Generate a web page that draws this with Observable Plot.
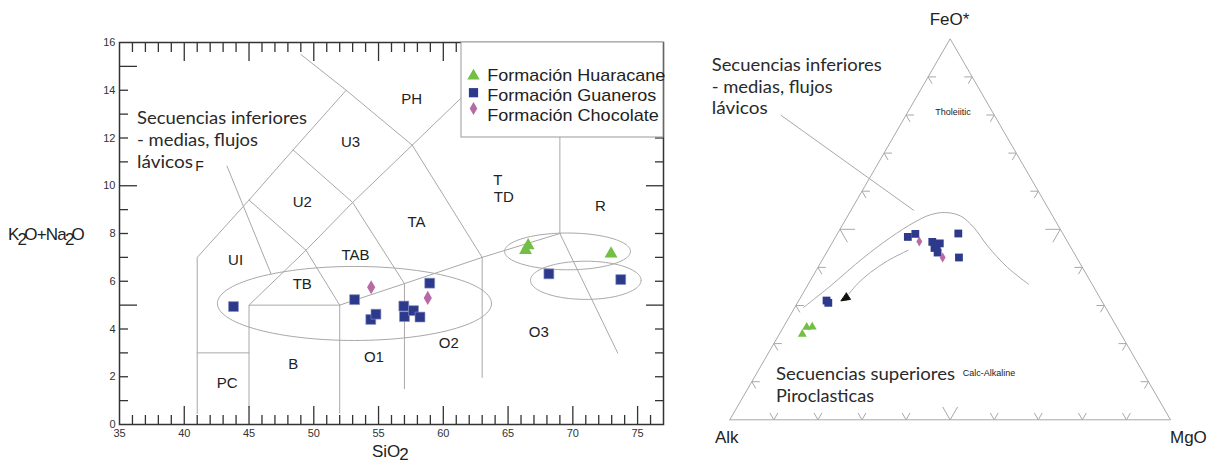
<!DOCTYPE html>
<html><head><meta charset="utf-8">
<script src="https://cdn.jsdelivr.net/npm/d3@7"></script>
<script src="https://cdn.jsdelivr.net/npm/@observablehq/plot@0.6"></script>
<style>
html,body{margin:0;padding:0;background:#fff;}
#wrap{position:relative;width:1210px;height:465px;overflow:hidden;background:#fff;}
</style></head><body><div id="wrap"></div>
<script>
// ================= DATA =================
const formations = ["Formación Huaracane", "Formación Guaneros", "Formación Chocolate"];
const formationColors = ["#72bf44", "#2d3a8c", "#b86aa6"];
const formationSymbols = ["triangle", "square", "diamond"];

// TAS diagram (SiO2 vs K2O+Na2O)
const huaracaneSiO2 = [66.35, 66.55, 72.95];
const huaracaneAlk  = [7.30, 7.50, 7.15];
const guanerosSiO2  = [43.8, 53.15, 54.4, 54.8, 56.95, 57.0, 57.7, 58.2, 58.95, 68.15, 73.7];
const guanerosAlk   = [4.94, 5.23, 4.40, 4.62, 4.96, 4.52, 4.77, 4.50, 5.92, 6.31, 6.07];
const chocolateSiO2 = [54.43, 58.8];
const chocolateAlk  = [5.75, 5.30];

const xTickLabels = [35, 40, 45, 50, 55, 60, 65, 70, 75];
const yTickLabels = [0, 2, 4, 6, 8, 10, 12, 14, 16];

// TAS field boundaries: polylines of [SiO2, alkalis]
const fieldLines = [
  [[41, 0.46], [41, 7], [45, 9.4], [48.4, 11.5], [52.5, 14], [49, 15.5]],
  [[41, 3], [45, 3]],
  [[45, 0.72], [45, 5], [52, 5], [52, 0.47]],
  [[52, 5], [57, 5.9], [63, 7], [69, 8]],
  [[45, 5], [49.4, 7.3], [52, 5]],
  [[49.4, 7.3], [45, 9.4]],
  [[49.4, 7.3], [53, 9.3], [57.6, 11.7]],
  [[48.4, 11.5], [53, 9.3], [57, 5.9], [57, 1.5]],
  [[52.5, 14], [57.6, 11.7], [63, 7], [63, 1.97]],
  [[57.6, 11.7], [62, 14]],
  [[69, 8], [69, 13]],
  [[69, 8], [73.47, 2.99]],
  [[43.3, 10.82], [46.7, 6.31]]
];
const regionNames = ["PH", "U3", "U2", "UI", "TB", "TAB", "TA", "T", "TD", "R", "O1", "O2", "O3", "B", "PC"];
const regionSiO2  = [57.55, 52.84, 49.11, 43.96, 49.11, 53.22, 57.93, 64.21, 64.67, 72.13, 54.64, 60.42, 67.37, 48.41, 43.31];
const regionAlk   = [13.64, 11.82, 9.31, 6.87, 5.89, 7.11, 8.47, 10.25, 9.52, 9.13, 2.82, 3.42, 3.87, 2.54, 1.73];

// grouping ellipses
const ellipseCx = [53.14, 69.59, 71.0];
const ellipseCy = [5.07, 7.25, 6.04];
const ellipseRx = [10.58, 4.86, 4.27];
const ellipseRy = [1.55, 0.77, 0.80];

// AFM ternary (percent Alk, FeO*, MgO)
const huaracaneA = [72.3, 70.4, 69.1];
const huaracaneF = [22.5, 24.3, 24.4];
const huaracaneM = [5.2, 5.3, 6.5];
const guanerosA  = [35.6, 33.5, 30.7, 29.2, 31.0, 30.2, 30.9, 23.7, 26.7, 62.4, 62.3];
const guanerosF  = [48.0, 48.8, 46.7, 46.3, 45.1, 45.7, 43.9, 48.9, 42.6, 31.3, 30.7];
const guanerosM  = [16.4, 17.7, 22.6, 24.5, 23.9, 24.1, 25.2, 27.4, 30.7, 6.3, 7.0];
const chocolateA = [33.6, 30.4];
const chocolateF = [46.8, 42.6];
const chocolateM = [19.6, 27.0];

// tholeiitic / calc-alkaline divide (F, M %)
const divideF = [29.5, 35.2, 42.6, 47.8, 51.8, 53.8, 54.4, 53.5, 50.5, 45.7, 40.0, 35.6];
const divideM = [2.0, 5.3, 9.1, 12.5, 15.9, 18.6, 21.7, 25.6, 30.1, 35.6, 43.0, 50.0];
// trend arrow (F, M %)
const arrowF = [44.5, 41.7, 38.7, 35.6, 33.0];
const arrowM = [18.2, 14.9, 12.6, 11.1, 10.5];
const arrowHeadF = [33.3, 31.2, 31.6, 33.3];
const arrowHeadM = [9.8, 9.6, 11.6, 9.8];
// leader line from annotation (F, M %)
const leaderF = [79.9, 55.0];
const leaderM = [-28.3, 14.2];
const ternTicks = [0.1, 0.2, 0.3, 0.4, 0.5, 0.6, 0.7, 0.8, 0.9];

// ================= DRAW =================
const wrap = document.getElementById("wrap");
const gray = "#a8a8a8";
const axisCol = "#333";

// ---------- TAS ----------
const fieldPts = fieldLines.flatMap((pl, i) => pl.map(([x, y]) => ({id: i, x, y})));
const ellPts = ellipseCx.flatMap((cx, i) => d3.range(0, 121).map(k => {
  const t = k / 120 * 2 * Math.PI;
  return {id: i, x: cx + ellipseRx[i] * Math.cos(t), y: ellipseCy[i] + ellipseRy[i] * Math.sin(t)};
}));
const regions = regionNames.map((t, i) => ({t, x: regionSiO2[i], y: regionAlk[i]}));
const pts = (xs, ys) => xs.map((x, i) => ({x, y: ys[i]}));
const xMinor = d3.range(36, 77).filter(v => v % 5 !== 0);
const xMajor = [40, 45, 50, 55, 60, 65, 70, 75];
const yMinor = d3.range(1, 16).filter(v => v % 5 !== 0);
const yMajor = [5, 10, 15];
const noText = () => "";
const tk = (o) => ({label: null, tickFormat: noText, color: axisCol, strokeWidth: 1.3, ...o});

const tas = Plot.plot({
  width: 700, height: 465,
  marginLeft: 119, marginRight: 37, marginTop: 42, marginBottom: 41,
  x: {domain: [35, 77]},
  y: {domain: [0, 16]},
  style: {fontFamily: "'Liberation Sans', Arial, sans-serif", fontSize: "11px", color: axisCol, background: "transparent", overflow: "visible"},
  marks: [
    Plot.line(fieldPts, {x: "x", y: "y", z: "id", stroke: gray, strokeWidth: 1}),
    Plot.line(ellPts, {x: "x", y: "y", z: "id", stroke: gray, strokeWidth: 1}),
    Plot.text(regions, {x: "x", y: "y", text: "t", fontSize: 15, fill: "#222"}),
    Plot.text(["F"], {x: [41.18], y: [10.82], text: d => d, fontSize: 14, fill: "#222"}),
    Plot.frame({stroke: axisCol, strokeWidth: 1.5}),
    Plot.axisX(xMinor, tk({anchor: "bottom", tickSize: -9})),
    Plot.axisX(xMajor, tk({anchor: "bottom", tickSize: -18})),
    Plot.axisX(xTickLabels, {anchor: "bottom", tickSize: 0, tickPadding: 5, label: null, color: axisCol, fontSize: 11}),
    Plot.axisX(xMinor, tk({anchor: "top", tickSize: -9})),
    Plot.axisX(xMajor, tk({anchor: "top", tickSize: -18})),
    Plot.axisY(yMinor, tk({anchor: "left", tickSize: -9})),
    Plot.axisY(yMajor, tk({anchor: "left", tickSize: -18})),
    Plot.axisY(yTickLabels, {anchor: "left", tickSize: 0, tickPadding: 4, label: null, color: axisCol, fontSize: 11}),
    Plot.axisY(yMinor, tk({anchor: "right", tickSize: -9})),
    Plot.axisY(yMajor, tk({anchor: "right", tickSize: -18})),
    Plot.dot(pts(guanerosSiO2, guanerosAlk), {x: "x", y: "y", symbol: "square", r: 5.6, fill: formationColors[1], stroke: "#8a93c4", strokeWidth: 0.6}),
    Plot.dot(pts(chocolateSiO2, chocolateAlk), {x: "x", y: "y", symbol: "diamond", r: 4.3, fill: formationColors[2]}),
    Plot.dot(pts(huaracaneSiO2, huaracaneAlk), {x: "x", y: "y", symbol: "triangle", r: 4.8, fill: formationColors[0]})
  ]
});
tas.style.position = "absolute"; tas.style.left = "0px"; tas.style.top = "0px";
wrap.appendChild(tas);

// ---------- AFM ternary ----------
const SQ = Math.sqrt(3) / 2;
const toXY = (a, f, m) => { const s = a + f + m; return {x: (m + f / 2) / s, y: f * SQ / s}; };
const fm = (f, m) => toXY(100 - f - m, f, m);
const outline = [toXY(1, 0, 0), toXY(0, 1, 0), toXY(0, 0, 1), toXY(1, 0, 0)];
const tp = (xsA, xsF, xsM) => xsA.map((a, i) => toXY(a, xsF[i], xsM[i]));
const divide = divideF.map((f, i) => fm(f, divideM[i]));
const arrow = arrowF.map((f, i) => fm(f, arrowM[i]));
const head = arrowHeadF.map((f, i) => fm(f, arrowHeadM[i]));
const leader = leaderF.map((f, i) => fm(f, leaderM[i]));
// tick stubs along the ternary grid directions
const stubs = [];
ternTicks.forEach(v => {
  const L = Math.abs(v - 0.5) < 1e-9 ? 0.034 : 0.018;
  const P = (f, m) => ({x: m + f / 2, y: f * SQ});
  const add = (p, q) => stubs.push({x1: p.x, y1: p.y, x2: q.x, y2: q.y});
  add(P(0, v), P(L, v)); add(P(0, v), P(L, v - L));          // base (Alk–MgO)
  add(P(v, 0), P(v, L)); add(P(v, 0), P(v - L, L));          // left (Alk–FeO*)
  add(P(v, 1 - v), P(v, 1 - v - L)); add(P(v, 1 - v), P(v - L, 1 - v)); // right (FeO*–MgO)
});

const afm = Plot.plot({
  width: 510, height: 465,
  marginLeft: 29.3, marginRight: 40, marginTop: 38.3, marginBottom: 45.7,
  x: {domain: [0, 1], axis: null},
  y: {domain: [0, SQ], axis: null},
  style: {background: "transparent", overflow: "visible"},
  marks: [
    Plot.line(outline, {x: "x", y: "y", stroke: gray, strokeWidth: 1}),
    Plot.link(stubs, {x1: "x1", y1: "y1", x2: "x2", y2: "y2", stroke: gray, strokeWidth: 1}),
    Plot.line(divide, {x: "x", y: "y", stroke: gray, strokeWidth: 1, curve: "catmull-rom"}),
    Plot.line(leader, {x: "x", y: "y", stroke: gray, strokeWidth: 1}),
    Plot.line(arrow, {x: "x", y: "y", stroke: gray, strokeWidth: 1, curve: "catmull-rom"}),
    Plot.line(head, {x: "x", y: "y", fill: "#111", stroke: "#111", strokeWidth: 1}),
    Plot.dot(tp(guanerosA, guanerosF, guanerosM), {x: "x", y: "y", symbol: "square", r: 4.4, fill: formationColors[1]}),
    Plot.dot(tp(chocolateA, chocolateF, chocolateM), {x: "x", y: "y", symbol: "diamond", r: 3.1, fill: formationColors[2]}),
    Plot.dot(tp(huaracaneA, huaracaneF, huaracaneM), {x: "x", y: "y", symbol: "triangle", r: 3.3, fill: formationColors[0]})
  ]
});
afm.style.position = "absolute"; afm.style.left = "700px"; afm.style.top = "0px";
wrap.appendChild(afm);

// ---------- overlay: titles, annotations, legend ----------
const ov = d3.create("svg").attr("width", 1210).attr("height", 465)
  .style("position", "absolute").style("left", "0px").style("top", "0px");
const arial = "'Liberation Sans', Arial, sans-serif";
const gothic = "Lato, 'Open Sans', sans-serif";
function txt(x, y, s, size, family, opts = {}) {
  const t = ov.append("text").attr("x", x).attr("y", y).text(s)
    .attr("font-size", size).attr("font-family", family).attr("fill", opts.fill || "#222")
    .attr("text-anchor", opts.anchor || "start");
  if (opts.len) t.attr("textLength", opts.len).attr("lengthAdjust", "spacingAndGlyphs");
  if (opts.weight) t.attr("font-weight", opts.weight);
  return t;
}
// annotations
const annoLeft = ["Secuencias inferiores", "- medias, flujos", "lávicos"];
const annoLen = [170, 121, 56];
annoLeft.forEach((s, i) => txt(137, 124.3 + i * 21.7, s, 18, gothic, {len: annoLen[i], fill: "#2a2a2a"}));
annoLeft.forEach((s, i) => txt(711.7, 71 + i * 21.7, s, 18, gothic, {len: annoLen[i], fill: "#2a2a2a"}));
const annoUpper = ["Secuencias superiores", "Piroclasticas"];
const annoUpperLen = [179, 98];
annoUpper.forEach((s, i) => txt(776, 380 + i * 21.7, s, 18, gothic, {len: annoUpperLen[i], fill: "#2a2a2a"}));
txt(953, 114.5, "Tholeiitic", 9, arial, {anchor: "middle", fill: "#222"});
txt(962.7, 376, "Calc-Alkaline", 9, arial, {fill: "#222"});
// ternary apex labels
txt(949.5, 25, "FeO*", 17, arial, {anchor: "middle"});
txt(715, 442.7, "Alk", 17, arial);
txt(1170, 442.7, "MgO", 17, arial);
// axis titles
const yt = ov.append("text").attr("x", 8).attr("y", 240).attr("font-size", 17).attr("font-family", arial).attr("fill", "#222").attr("letter-spacing", "-0.8");
yt.append("tspan").text("K");
yt.append("tspan").attr("dy", 5).attr("dx", -1).text("2");
yt.append("tspan").attr("dy", -5).attr("dx", -2).text("O+Na");
yt.append("tspan").attr("dy", 5).attr("dx", -1).text("2");
yt.append("tspan").attr("dy", -5).attr("dx", -2).text("O");
const xt = ov.append("text").attr("x", 372).attr("y", 457).attr("font-size", 17).attr("font-family", arial).attr("fill", "#222");
xt.append("tspan").text("SiO");
xt.append("tspan").attr("dx", -1).attr("dy", 3).text("2");
// legend
ov.append("rect").attr("x", 461).attr("y", 42).attr("width", 202).attr("height", 95)
  .attr("fill", "#fff").attr("stroke", "#999").attr("stroke-width", 1);
const symTypes = {triangle: d3.symbolTriangle, square: d3.symbolSquare, diamond: d3.symbolDiamond};
const legR = [4.6, 5.2, 4.0];
const legSymY = [76, 92.7, 108.5];
const legTxtY = [80.7, 101.3, 121.3];
const legLen = [178, 169, 171.5];
formations.forEach((name, i) => {
  ov.append("path").attr("transform", `translate(473.5,${legSymY[i]})`)
    .attr("d", d3.symbol().type(symTypes[formationSymbols[i]]).size(Math.PI * legR[i] * legR[i])())
    .attr("fill", formationColors[i]);
  txt(487.3, legTxtY[i], name, 17, arial, {len: legLen[i]});
});
wrap.appendChild(ov.node());
</script>
</body></html>
